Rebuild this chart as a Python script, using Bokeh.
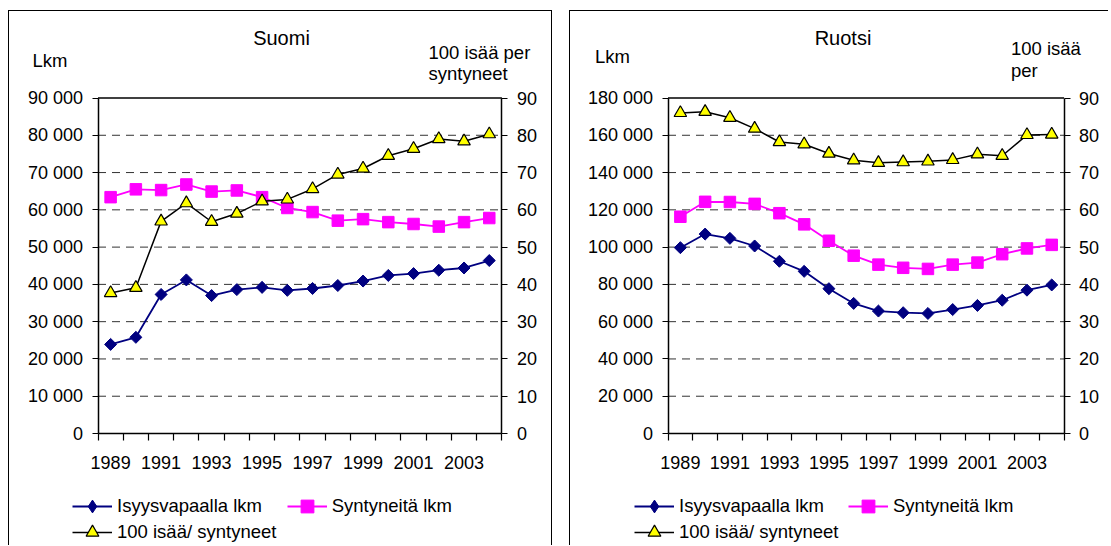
import numpy as np
from bokeh.plotting import figure
from bokeh.models import (Range1d, LinearAxis, FixedTicker, Label, Legend, LegendItem)
from bokeh.layouts import row
from bokeh.embed import file_html
from bokeh.resources import INLINE

# ---------------- data ----------------
years = list(range(1989, 2005))
year_labels = [1989, 1991, 1993, 1995, 1997, 1999, 2001, 2003]

fi_isyys = [23900, 25800, 37300, 41200, 37000, 38600, 39200, 38400,
            38900, 39700, 40900, 42400, 42900, 43800, 44400, 46400]
fi_synt = [63400, 65500, 65300, 66800, 64900, 65200, 63400, 60500,
           59400, 57100, 57500, 56700, 56200, 55500, 56700, 57800]
fi_ratio = [37.7, 39.1, 56.9, 61.8, 56.8, 59.0, 62.3, 62.8,
            65.6, 69.5, 71.1, 74.5, 76.4, 79.0, 78.4, 80.3]

se_isyys = [99700, 107000, 104700, 100600, 92400, 87000, 77700, 69800,
            65700, 64800, 64400, 66500, 68700, 71500, 76900, 79700]
se_synt = [116300, 124300, 124200, 123200, 118200, 112200, 103400, 95400,
           90600, 88900, 88300, 90600, 91700, 96200, 99300, 101200]
se_ratio = [86.0, 86.3, 84.7, 81.8, 78.2, 77.6, 75.1, 73.3,
            72.6, 72.8, 73.0, 73.4, 74.9, 74.5, 80.1, 80.2]

series_names = ["Isyysvapaalla lkm", "Syntyneitä lkm", "100 isää/ syntyneet"]
ratio_max = 90
ratio_step = 10

FONT = "Liberation Sans"
NAVY = "#000080"
MAGENTA = "#FF00FF"
YELLOW = "#FFFF00"


def fmt_thousands(v):
    return f"{v:,}".replace(",", " ")


def style_axis(ax, size="18px"):
    ax.axis_line_color = "black"
    ax.axis_line_width = 1.5
    ax.major_tick_line_color = "black"
    ax.major_tick_line_width = 1.2
    ax.minor_tick_line_color = None
    ax.major_tick_out = 6
    ax.major_tick_in = 0
    ax.major_label_standoff = 9
    ax.major_label_text_font = FONT
    ax.major_label_text_font_size = size
    ax.major_label_text_color = "black"


def make_panel(isyys, synt, ratio, ymax, ystep, width, height,
               area, styles, texts, legend_pos, margin):
    # area = (left, right, top, bottom) of the plotting area in canvas pixels
    a_l, a_r, a_t, a_b = area
    x_lo, x_hi = years[0] - 0.5, years[-1] + 0.5
    xs = (x_hi - x_lo) / (a_r - a_l)
    ys = ymax / (a_b - a_t)
    rs = ratio_max / (a_b - a_t)
    x_range = Range1d(x_lo - a_l * xs, x_hi + (width - a_r) * xs)
    y_range = Range1d(-(height - a_b) * ys, ymax + a_t * ys)

    p = figure(width=width, height=height, output_backend="svg",
               toolbar_location=None, x_range=x_range, y_range=y_range,
               x_axis_location=None, y_axis_location=None,
               min_border=0, min_border_left=0, min_border_right=0,
               min_border_top=0, min_border_bottom=0,
               background_fill_color="white", border_fill_color="white",
               outline_line_color=None, margin=margin)
    p.styles = styles
    p.grid.visible = False
    p.extra_y_ranges = {"r": Range1d(-(height - a_b) * rs, ratio_max + a_t * rs)}

    yticks = list(range(0, ymax + 1, ystep))

    # dashed gridlines inside the plotting area
    gl = yticks[1:-1]
    p.segment(x0=[x_lo] * len(gl), x1=[x_hi] * len(gl), y0=gl, y1=gl,
              line_color="#333333", line_width=1, line_dash="8 6")
    # top edge of the plotting area
    p.segment(x0=[x_lo], x1=[x_hi], y0=[ymax], y1=[ymax],
              line_color="black", line_width=1.5)

    # x axis
    xa = LinearAxis(fixed_location=0, bounds=(x_lo, x_hi),
                    ticker=FixedTicker(ticks=year_labels,
                                       minor_ticks=[y - 0.5 for y in years] + [x_hi]))
    xa.axis_line_color = "black"
    xa.axis_line_width = 1.5
    xa.major_tick_out = 0
    xa.major_tick_in = 0
    xa.minor_tick_out = 7
    xa.minor_tick_in = 0
    xa.minor_tick_line_color = "black"
    xa.minor_tick_line_width = 1.2
    xa.major_label_standoff = 15
    xa.major_label_text_font = FONT
    xa.major_label_text_font_size = "18px"
    xa.major_label_text_color = "black"
    p.add_layout(xa, "below")

    # left axis
    ya = LinearAxis(fixed_location=x_lo, bounds=(0, ymax), ticker=FixedTicker(ticks=yticks))
    ya.major_label_overrides = {t: fmt_thousands(t) for t in yticks}
    style_axis(ya)
    p.add_layout(ya, "left")

    # right axis
    ra = LinearAxis(y_range_name="r", fixed_location=x_hi, bounds=(0, ratio_max),
                    ticker=FixedTicker(ticks=list(range(0, ratio_max + 1, ratio_step))))
    style_axis(ra)
    p.add_layout(ra, "right")

    # series
    l1 = p.line(years, isyys, line_color=NAVY, line_width=1.8)
    p.scatter(years, isyys, marker="square", angle=np.pi / 4, size=8.5,
              fill_color=NAVY, line_color=NAVY)
    l2 = p.line(years, synt, line_color=MAGENTA, line_width=1.8)
    s2 = p.scatter(years, synt, marker="square", size=11.5,
                   fill_color=MAGENTA, line_color=MAGENTA)
    l3 = p.line(years, ratio, y_range_name="r", line_color="black", line_width=1.5)
    s3 = p.scatter(years, ratio, y_range_name="r", marker="triangle", size=12.5,
                   fill_color=YELLOW, line_color="black", line_width=1.2)
    # legend-only diamond (not drawn in the plot: NaN position)
    d1 = p.scatter(x=np.array([np.nan]), y=np.array([np.nan]), marker="diamond",
                   fill_color=NAVY, line_color=NAVY)

    items = [LegendItem(label=series_names[0], renderers=[l1, d1]),
             LegendItem(label=series_names[1], renderers=[l2, s2]),
             LegendItem(label=series_names[2], renderers=[l3, s3])]
    for item, (lx, ly) in zip(items, legend_pos):
        leg = Legend(items=[item], location=(lx, ly), orientation="horizontal",
                     padding=0, margin=0, spacing=0,
                     border_line_color=None, background_fill_alpha=0,
                     glyph_width=40, glyph_height=32, label_height=32,
                     label_standoff=5, label_text_font=FONT,
                     label_text_font_size="18.5px", label_text_color="black")
        p.add_layout(leg)

    for (txt, x, y, align, size) in texts:
        p.add_layout(Label(x=x, y=y, x_units="screen", y_units="screen", text=txt,
                           text_font=FONT, text_font_size=size, text_align=align,
                           text_baseline="middle", text_color="black"))
    return p


H = 535
p1 = make_panel(fi_isyys, fi_synt, fi_ratio, 90000, 10000,
                width=544, height=H, area=(88.5, 492.4, 86.5, 422),
                styles={"border-top": "1px solid black", "border-left": "1px solid black",
                        "border-right": "1px solid black"},
                texts=[("Suomi", 272, 508.5, "center", "20px"),
                       ("Lkm", 23, 486.5, "left", "18.5px"),
                       ("100 isää per", 419, 494.5, "left", "18.5px"),
                       ("syntyneet", 419, 473, "left", "18.5px")],
                legend_pos=[(63, 24.3), (277.7, 24.3), (63, -2)],
                margin=(10, 0, 0, 8))
p2 = make_panel(se_isyys, se_synt, se_ratio, 180000, 20000,
                width=539, height=H, area=(97.5, 493.6, 86.5, 422),
                styles={"border-top": "1px solid black", "border-left": "1px solid black"},
                texts=[("Ruotsi", 272.5, 508.5, "center", "20px"),
                       ("Lkm", 24.5, 489.6, "left", "18.5px"),
                       ("100 isää", 440.4, 498, "left", "18.5px"),
                       ("per", 440.4, 476, "left", "18.5px")],
                legend_pos=[(64, 24.3), (278, 24.3), (64, -2)],
                margin=(10, 0, 0, 17))

layout = row(p1, p2)
open("out.html", "w").write(file_html(layout, INLINE))
